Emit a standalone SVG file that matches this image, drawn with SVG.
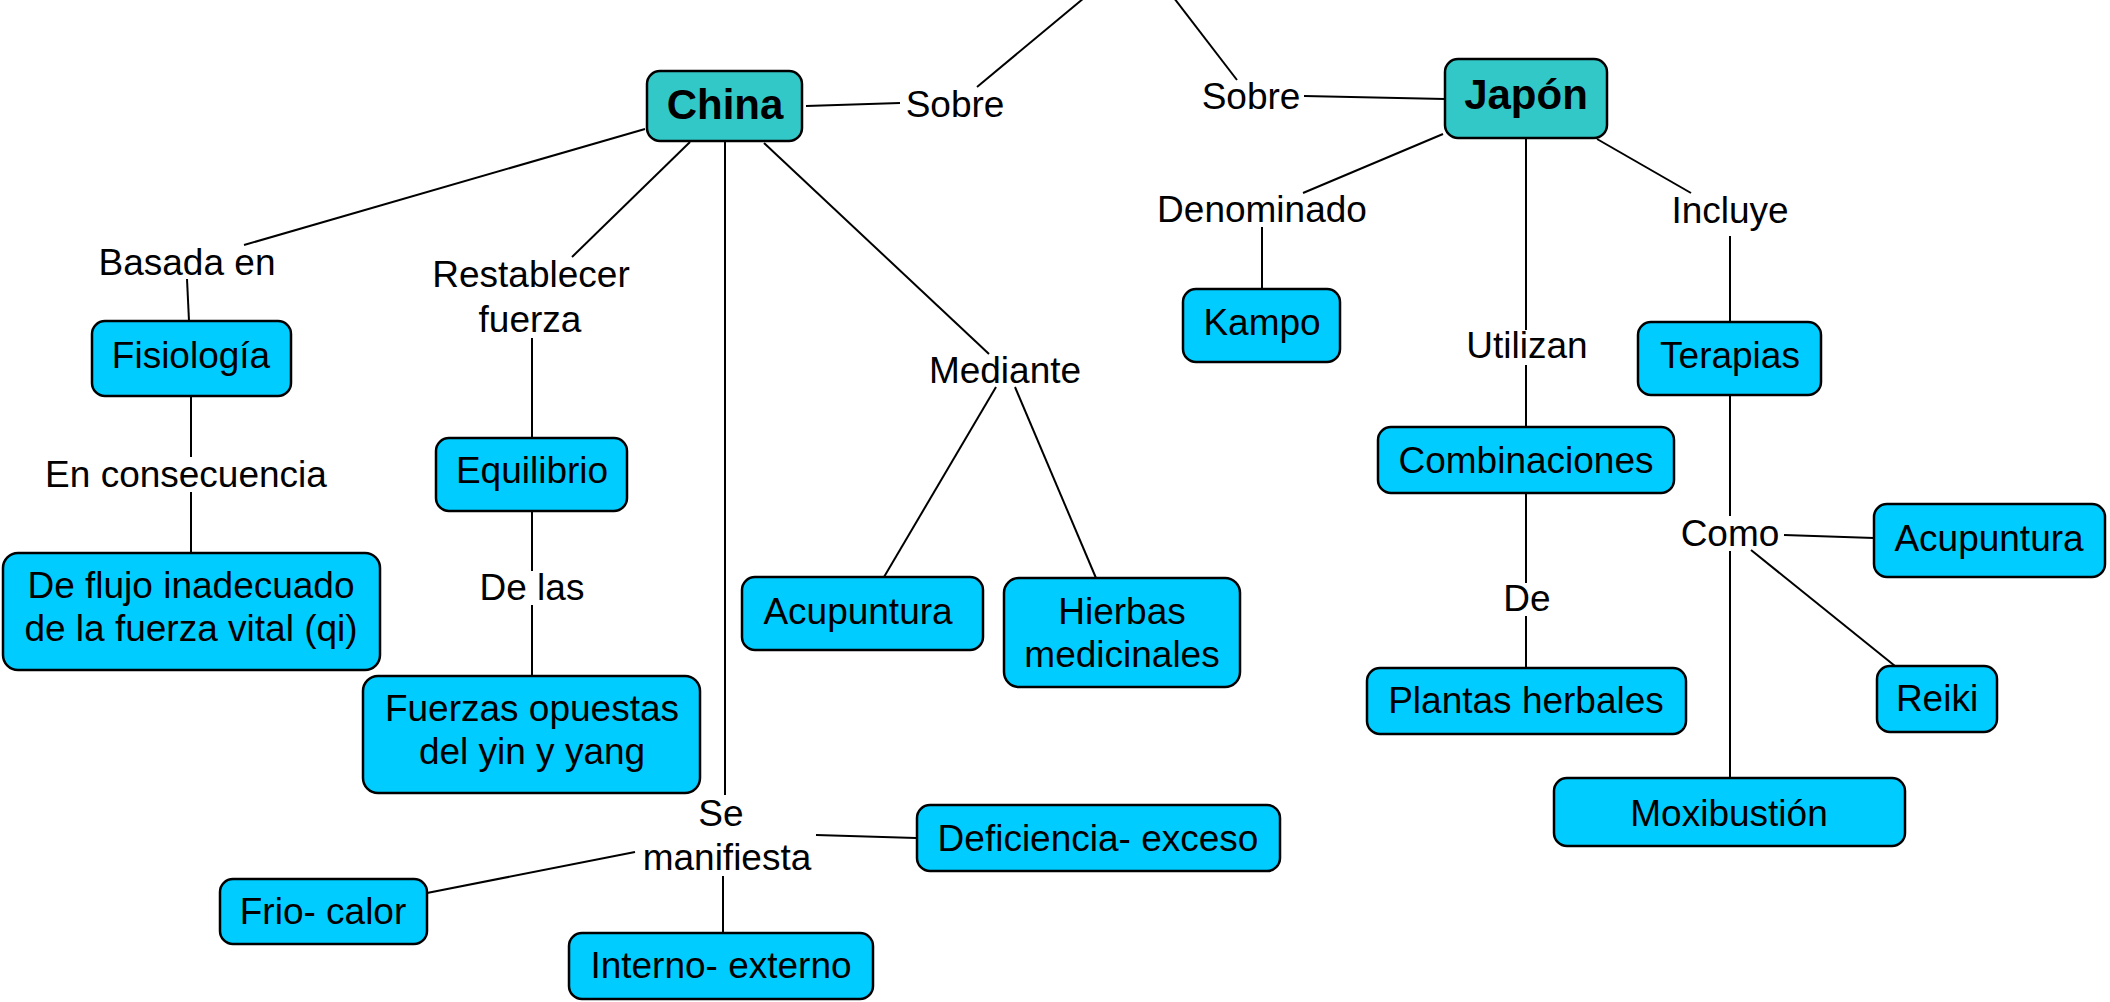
<svg xmlns="http://www.w3.org/2000/svg" width="2110" height="1002" viewBox="0 0 2110 1002">
<style>
.n{fill:#00CCFF;stroke:#000;stroke-width:2.5}
.m{fill:#33C8C8;stroke:#000;stroke-width:2.5}
text{font-family:"Liberation Sans",Arial,sans-serif;font-size:37px;fill:#000;text-anchor:middle}
.b{font-weight:bold;font-size:42px}
#connectors line{stroke:#000;stroke-width:2}
</style>
<rect width="2110" height="1002" fill="#fff"/>
<g id="connectors">
<line x1="977" y1="87" x2="1084" y2="-2"/>
<line x1="1174" y1="-2" x2="1237" y2="80"/>
<line x1="806" y1="106" x2="900" y2="103"/>
<line x1="1304" y1="96" x2="1445" y2="99"/>
<line x1="645" y1="129" x2="244" y2="245"/>
<line x1="187" y1="279" x2="189" y2="321"/>
<line x1="191" y1="396" x2="191" y2="457"/>
<line x1="191" y1="492" x2="191" y2="553"/>
<line x1="690" y1="142" x2="572" y2="257"/>
<line x1="532" y1="338" x2="532" y2="438"/>
<line x1="532" y1="511" x2="532" y2="571"/>
<line x1="532" y1="605" x2="532" y2="676"/>
<line x1="725" y1="141" x2="725" y2="795"/>
<line x1="764" y1="143" x2="989" y2="354"/>
<line x1="996" y1="387" x2="884" y2="577"/>
<line x1="1015" y1="387" x2="1096" y2="578"/>
<line x1="816" y1="835" x2="916" y2="838"/>
<line x1="635" y1="852" x2="427" y2="893"/>
<line x1="723" y1="876" x2="723" y2="933"/>
<line x1="1443" y1="134" x2="1303" y2="193"/>
<line x1="1262" y1="227" x2="1262" y2="289"/>
<line x1="1526" y1="138" x2="1526" y2="330"/>
<line x1="1526" y1="365" x2="1526" y2="427"/>
<line x1="1526" y1="493" x2="1526" y2="583"/>
<line x1="1526" y1="616" x2="1526" y2="668"/>
<line x1="1597" y1="139" x2="1691" y2="193"/>
<line x1="1730" y1="236" x2="1730" y2="322"/>
<line x1="1730" y1="395" x2="1730" y2="516"/>
<line x1="1730" y1="551" x2="1730" y2="778"/>
<line x1="1784" y1="535" x2="1874" y2="538"/>
<line x1="1751" y1="550" x2="1895" y2="666"/>
</g>
<g id="labels">
<text x="955" y="117">Sobre</text>
<text x="1251" y="109">Sobre</text>
<text x="187" y="275">Basada en</text>
<text x="531" y="287">Restablecer</text>
<text x="530" y="332">fuerza</text>
<text x="186" y="487">En consecuencia</text>
<text x="532" y="600">De las</text>
<text x="1005" y="383">Mediante</text>
<text x="721" y="826">Se</text>
<text x="727" y="870">manifiesta</text>
<text x="1262" y="222">Denominado</text>
<text x="1527" y="358">Utilizan</text>
<text x="1730" y="223">Incluye</text>
<text x="1527" y="611">De</text>
<text x="1730" y="546">Como</text>
</g>
<g id="china"><rect class="m" x="647" y="71" width="155" height="70" rx="13"/><text class="b" x="725" y="119">China</text></g>
<g id="japon"><rect class="m" x="1445" y="59" width="162" height="79" rx="13"/><text class="b" x="1526" y="109">Japón</text></g>
<g id="fisiologia"><rect class="n" x="92" y="321" width="199" height="75" rx="13"/><text x="191" y="368">Fisiología</text></g>
<g id="deflujo"><rect class="n" x="3" y="553" width="377" height="117" rx="15"/><text x="191" y="598">De flujo inadecuado</text><text x="191" y="641">de la fuerza vital (qi)</text></g>
<g id="equilibrio"><rect class="n" x="436" y="438" width="191" height="73" rx="13"/><text x="532" y="483">Equilibrio</text></g>
<g id="fuerzas"><rect class="n" x="363" y="676" width="337" height="117" rx="15"/><text x="532" y="721">Fuerzas opuestas</text><text x="532" y="764">del yin y yang</text></g>
<g id="acupuntura1"><rect class="n" x="742" y="577" width="241" height="73" rx="13"/><text x="858" y="624">Acupuntura</text></g>
<g id="hierbas"><rect class="n" x="1004" y="578" width="236" height="109" rx="15"/><text x="1122" y="624">Hierbas</text><text x="1122" y="667">medicinales</text></g>
<g id="deficiencia"><rect class="n" x="917" y="805" width="363" height="66" rx="13"/><text x="1098" y="851">Deficiencia- exceso</text></g>
<g id="frio"><rect class="n" x="220" y="879" width="207" height="65" rx="13"/><text x="323" y="924">Frio- calor</text></g>
<g id="interno"><rect class="n" x="569" y="933" width="304" height="66" rx="13"/><text x="721" y="978">Interno- externo</text></g>
<g id="kampo"><rect class="n" x="1183" y="289" width="157" height="73" rx="13"/><text x="1262" y="335">Kampo</text></g>
<g id="combinaciones"><rect class="n" x="1378" y="427" width="296" height="66" rx="13"/><text x="1526" y="473">Combinaciones</text></g>
<g id="plantas"><rect class="n" x="1367" y="668" width="319" height="66" rx="13"/><text x="1526" y="713">Plantas herbales</text></g>
<g id="terapias"><rect class="n" x="1638" y="322" width="183" height="73" rx="13"/><text x="1730" y="368">Terapias</text></g>
<g id="acupuntura2"><rect class="n" x="1874" y="504" width="231" height="73" rx="13"/><text x="1989" y="551">Acupuntura</text></g>
<g id="reiki"><rect class="n" x="1877" y="666" width="120" height="66" rx="13"/><text x="1937" y="711">Reiki</text></g>
<g id="moxibustion"><rect class="n" x="1554" y="778" width="351" height="68" rx="13"/><text x="1729" y="826">Moxibustión</text></g>
</svg>
